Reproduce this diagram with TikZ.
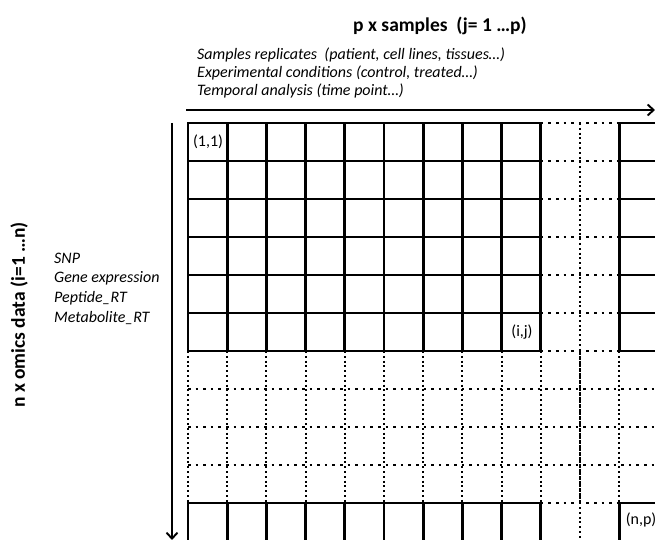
\documentclass[tikz,border=0pt]{standalone}
\usepackage{fontspec}
\setmainfont{Carlito}
\usetikzlibrary{arrows.meta}
\begin{document}
\begin{tikzpicture}[x=1pt,y=-1pt,
  solidline/.style={line width=2.8pt, line cap=rect},
  dotv/.style={line width=2pt, dash pattern=on 2pt off 2.8pt},
  doth/.style={line width=2pt, dash pattern=on 2.6pt off 5pt},
  axis/.style={line width=1.9pt, -{Straight Barb[length=6pt,width=11pt,line width=1.9pt]}},
  bigtitle/.style={font=\fontsize{19.5}{22}\selectfont\bfseries, inner sep=0pt},
  note/.style={font=\fontsize{16}{18}\selectfont\itshape, inner sep=0pt, anchor=west},
  cell/.style={font=\fontsize{16}{18}\selectfont, inner sep=0pt}]
\useasboundingbox (0,0) rectangle (655,540);
\clip (0,0) rectangle (655,540);

% grid geometry (origin, cell width, cell height)
\def\gx{188}\def\gy{123}\def\cw{39.2}\def\rh{38}

% ---- dotted part of the matrix ----
% horizontal dotted lines between column 9 and column 11
\foreach \j in {0,...,6,10,11}
  \draw[doth] ({\gx+9*\cw},{\gy+\j*\rh}) -- ({\gx+11*\cw},{\gy+\j*\rh});
% horizontal dotted lines crossing the full width
\foreach \j in {7,8,9}
  \draw[doth] ({\gx},{\gy+\j*\rh}) -- (660,{\gy+\j*\rh});
% vertical dotted lines in the middle band of rows
\foreach \i in {0,...,12}
  \draw[dotv] ({\gx+\i*\cw},{\gy+6*\rh}) -- ({\gx+\i*\cw},{\gy+10*\rh});
% vertical dotted line in the middle column band
\draw[dotv] ({\gx+10*\cw},{\gy}) -- ({\gx+10*\cw},{\gy+11*\rh});

% ---- solid blocks ----
% top-left block: rows 1..6, columns 1..9
\foreach \i in {0,...,9}
  \draw[solidline] ({\gx+\i*\cw},{\gy}) -- ({\gx+\i*\cw},{\gy+6*\rh});
\foreach \j in {0,...,6}
  \draw[solidline] ({\gx},{\gy+\j*\rh}) -- ({\gx+9*\cw},{\gy+\j*\rh});
% top-right block: last column
\draw[solidline] ({\gx+11*\cw},{\gy}) -- ({\gx+11*\cw},{\gy+6*\rh});
\foreach \j in {0,...,6}
  \draw[solidline] ({\gx+11*\cw},{\gy+\j*\rh}) -- (660,{\gy+\j*\rh});
% bottom-left block: last row
\foreach \i in {0,...,9}
  \draw[solidline] ({\gx+\i*\cw},{\gy+10*\rh}) -- ({\gx+\i*\cw},{\gy+11*\rh});
\draw[solidline] ({\gx},{\gy+10*\rh}) -- ({\gx+9*\cw},{\gy+10*\rh});
\draw[solidline] ({\gx},{\gy+11*\rh}) -- ({\gx+9*\cw},{\gy+11*\rh});
% bottom-right block: cell (n,p)
\draw[solidline] ({\gx+11*\cw},{\gy+10*\rh}) -- ({\gx+11*\cw},{\gy+11*\rh});
\draw[solidline] ({\gx+11*\cw},{\gy+10*\rh}) -- (660,{\gy+10*\rh});

% ---- axes ----
\coordinate (hstart) at (186,110);
\coordinate (hend) at (655,110);
\coordinate (vstart) at (172,123);
\coordinate (vend) at (172,540);
\draw[axis] (hstart) -- (hend);
\draw[axis] (vstart) -- (vend);

% ---- labels ----
\node[bigtitle] (ptitle) at (440,26) {p x samples\ \ (j= 1 \dots p)};
\node[bigtitle, rotate=90] (ntitle) at (19,315) {n x omics data (i=1 \dots n)};

\node[note] (samples) at (197,55) {Samples replicates\ \ (patient, cell lines,\ tissues\dots)};
\node[note] (conditions) at (197,73) {Experimental conditions (control, treated\dots)};
\node[note] (temporal) at (197,91) {Temporal analysis (time point\dots)};

\node[note] (snp) at (54,258) {SNP};
\node[note] (gene) at (54,278) {Gene expression};
\node[note] (peptide) at (54,298) {Peptide\_RT};
\node[note] (metabolite) at (54,318) {Metabolite\_RT};

\node[cell] (c11) at (208,142) {(1,1)};
\node[cell] (cij) at (522,332) {(i,j)};
\node[cell] (cnp) at (641,520) {(n,p)};
\end{tikzpicture}
\end{document}
